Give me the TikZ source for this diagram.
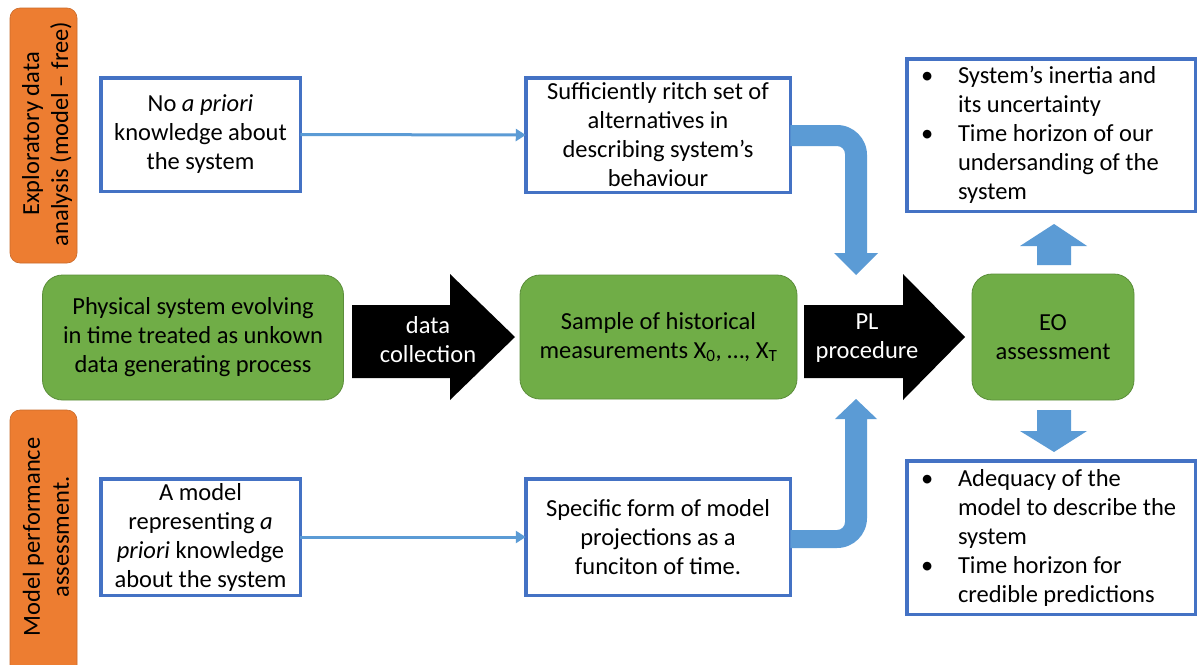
\documentclass[tikz,border=0pt]{standalone}
\usepackage{fontspec}
\setmainfont{Carlito}
\usetikzlibrary{arrows.meta}
\definecolor{orng}{HTML}{ED7D31}
\definecolor{grn}{HTML}{70AD47}
\definecolor{grnb}{HTML}{5B8E3A}
\definecolor{bbord}{HTML}{4472C4}
\definecolor{lblue}{HTML}{5B9BD5}
\newcommand{\bitem}[1]{\par\noindent\hangindent=47pt\hangafter=1\makebox[47pt][l]{\hspace{10pt}\textbullet}#1}
\begin{document}
\begin{tikzpicture}[x=1pt,y=-1pt,
  every node/.style={font=\fontsize{24.5}{29}\selectfont},
  bbox/.style={draw=bbord, line width=3.5pt, fill=white, align=center, inner sep=0pt, outer sep=0pt},
  gbox/.style={draw=grnb, line width=0.8pt, fill=grn, rounded corners=20pt, align=center, inner sep=0pt, outer sep=0pt},
  obox/.style={fill=orng, draw=orng!85!black, line width=0.6pt, rounded corners=10pt},
  thin arrow/.style={draw=lblue, line width=3pt, -{Triangle[length=10pt,width=12pt]}},
  thick arrow/.style={fill=lblue},
  block arrow/.style={fill=black},
  arrowtext/.style={text=white, align=center}
]
\useasboundingbox (0,0) rectangle (1198,664);
\fill[white] (0,0) rectangle (1198,664);

% orange side labels
\draw[obox] (10,8) rectangle (77,263);
\node[rotate=90, align=center] (olab1) at (47,134) {Exploratory data\\analysis (model -- free)};
\begin{scope}
\clip (0,0) rectangle (1198,664);
\draw[obox] (10,410) rectangle (77,690);
\end{scope}
\node[rotate=90, align=center] (olab2) at (46,537) {Model performance\\assessment.};

% blue boxes
\node[bbox, minimum width=199.5pt, minimum height=113.5pt] (b1) at (200.5,134.5) {No \textit{a priori}\\knowledge about\\the system};
\node[bbox, minimum width=199.5pt, minimum height=116.5pt] (b2) at (200.5,537) {A model\\representing \textit{a}\\\textit{priori} knowledge\\about the system};
\node[bbox, minimum width=264.5pt, minimum height=114.5pt] (b3) at (658,135) {Sufficiently ritch set of\\alternatives in\\describing system’s\\behaviour};
\node[bbox, minimum width=264.5pt, minimum height=116.5pt] (b4) at (658,537) {Specific form of model\\projections as a\\funciton of time.};
\node[bbox, minimum width=288.5pt, minimum height=152.5pt, align=left] (b5) at (1051,135) {\begin{minipage}{280pt}\bitem{System’s inertia and\\its uncertainty}\bitem{Time horizon of our\\undersanding of the\\system}\end{minipage}};
\node[bbox, minimum width=288.5pt, minimum height=153.5pt, align=left] (b6) at (1051,537.5) {\begin{minipage}{280pt}\bitem{Adequacy of the\\model to describe the\\system}\bitem{Time horizon for\\credible predictions}\end{minipage}};

% green boxes
\node[gbox, minimum width=301pt, minimum height=125pt] (g1) at (193,337.5) {Physical system evolving\\in time treated as unkown\\data generating process};
\node[gbox, minimum width=277pt, minimum height=124pt] (g2) at (658.5,337) {Sample of historical\\measurements X\textsubscript{0}, …, X\textsubscript{T}};
\node[gbox, minimum width=162pt, minimum height=126pt] (g3) at (1053,337) {EO\\assessment};

% black block arrows
\fill[block arrow] (352,305) -- (450,305) -- (450,274) -- (515,337) -- (450,400) -- (450,378) -- (352,378) -- cycle;
\node[arrowtext] (dc) at (428,340) {data\\collection};
\fill[block arrow] (804,305) -- (903,305) -- (903,274) -- (965,337) -- (903,400) -- (903,378) -- (804,378) -- cycle;
\node[arrowtext] (pl) at (867,338) {PL\\procedure};

% thin arrows
\draw[thin arrow] (b1.east) -- (b3.west);
\draw[thin arrow] (b2.east) -- (b4.west);

% thick curved arrows
\fill[thick arrow] (b3.east |- 0,125) -- (837,125) arc[start angle=-90, end angle=0, radius=30] -- (867,253) -- (878,253) -- (856,275) -- (834,253) -- (845,253) -- (845,154) arc[start angle=0, end angle=-90, radius=8] -- (b3.east |- 0,146) -- cycle;
\fill[thick arrow] (b4.east |- 0,548) -- (837,548) arc[start angle=90, end angle=0, radius=30] -- (867,419) -- (877,419) -- (856,399) -- (835,419) -- (845,419) -- (845,522) arc[start angle=0, end angle=90, radius=8] -- (b4.east |- 0,530) -- cycle;

% straight thick arrows
\fill[thick arrow] (1037,265) -- (1037,246) -- (1020,246) -- (1054,224) -- (1087,246) -- (1071,246) -- (1071,265) -- cycle;
\fill[thick arrow] (1037,410) -- (1037,431) -- (1020,431) -- (1054,452) -- (1087,431) -- (1071,431) -- (1071,410) -- cycle;
\end{tikzpicture}
\end{document}
